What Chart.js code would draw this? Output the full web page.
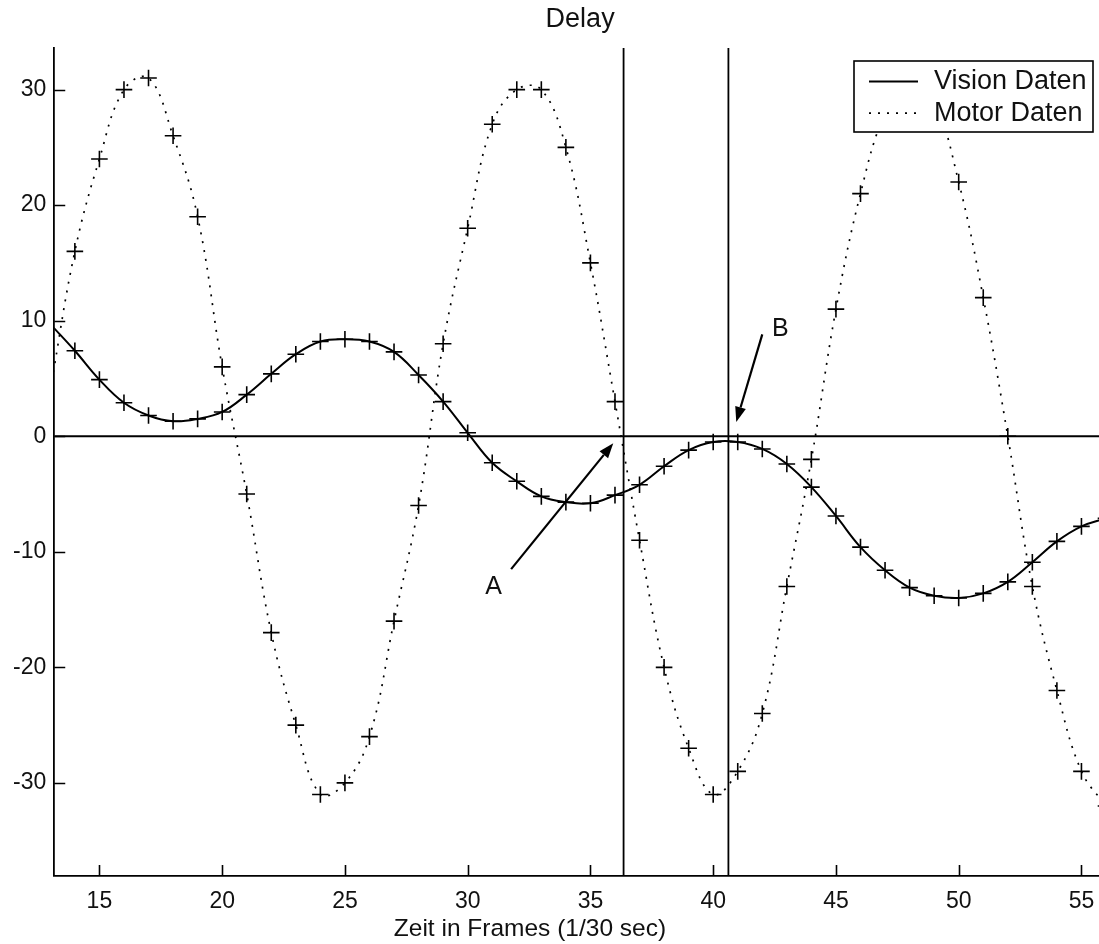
<!DOCTYPE html>
<html>
<head>
<meta charset="utf-8">
<script src="https://cdn.jsdelivr.net/npm/chart.js@4/dist/chart.umd.min.js"></script>
<style>
html,body{margin:0;padding:0;background:#fff;overflow:hidden;width:1099px;height:944px}
#wrap{width:1160px;height:944px}
canvas{display:block}
</style>
</head>
<body>
<div id="wrap"><canvas id="c" width="1160" height="944"></canvas></div>
<script>
// ---- data ----
const frames = [13,14,15,16,17,18,19,20,21,22,23,24,25,26,27,28,29,30,31,32,33,34,35,36,37,38,39,40,41,42,43,44,45,46,47,48,49,50,51,52,53,54,55,56];
const visionDaten = [9.7,7.4,4.9,2.9,1.8,1.3,1.5,2.1,3.6,5.4,7.1,8.2,8.4,8.2,7.3,5.3,3.0,0.3,-2.3,-3.9,-5.2,-5.7,-5.8,-5.1,-4.2,-2.6,-1.2,-0.5,-0.5,-1.1,-2.4,-4.4,-6.9,-9.6,-11.6,-13.1,-13.8,-14.0,-13.6,-12.6,-10.9,-9.1,-7.8,-7.1];
const motorDaten = [4,16,24,30,31,26,19,6,-5,-17,-25,-31,-30,-26,-16,-6,8,18,27,30,30,25,15,3,-9,-20,-27,-31,-29,-24,-13,-2,11,21,28,31,29,22,12,0,-13,-22,-29,-32];
const xTicks = [15,20,25,30,35,40,45,50,55];
const yTicks = [-30,-20,-10,0,10,20,30];
const xRange = [13.16, 56];
const yRange = [-38.05, 33.6];
const cursorFrames = [36.35, 40.62];   // vertical marker lines
const zeroLevel = 0;                    // horizontal reference line
const notes = [
  {label:'A', text:[31.06,-13.08], tail:[31.77,-11.5], tip:[35.93,-0.6]},
  {label:'B', text:[42.74, 9.25], tail:[42.0, 8.82], tip:[40.94, 1.24]}
];
const titleText = 'Delay';
const xLabel = 'Zeit in Frames (1/30 sec)';

const FONT = '"Liberation Sans", Arial, Helvetica, sans-serif';
const TXT = '#111';

const toXY = (xs, ys) => xs.map((v,i)=>({x:v, y:ys[i]}));
const inRange = ctx => {
  const p = ctx.raw; if (!p) return 0;
  return (p.x >= xRange[0] && p.x <= xRange[1]) ? 8.3 : 0;
};

const refDatasets = [
  ...cursorFrames.map(f => ({label:'_ref', data:[{x:f,y:yRange[0]},{x:f,y:yRange[1]}]})),
  {label:'_ref', data:[{x:xRange[0],y:zeroLevel},{x:xRange[1],y:zeroLevel}]}
].map(d => Object.assign(d, {borderColor:'#000', borderWidth:1.8, pointRadius:0, tension:0, inLegend:false}));

const tickPlugin = {
  id:'inwardTicks',
  afterDatasetsDraw(chart){
    const {ctx, chartArea:a, scales:{x, y}} = chart;
    ctx.save();
    ctx.strokeStyle = '#000'; ctx.lineWidth = 1.6;
    ctx.beginPath();
    xTicks.forEach(v => { const px = Math.round(x.getPixelForValue(v))+0.5; ctx.moveTo(px, a.bottom); ctx.lineTo(px, a.bottom-11); });
    yTicks.forEach(v => { const py = Math.round(y.getPixelForValue(v))+0.5; ctx.moveTo(a.left, py); ctx.lineTo(a.left+11, py); });
    ctx.stroke();
    ctx.restore();
  }
};

const arrowPlugin = {
  id:'arrows',
  afterDatasetsDraw(chart){
    const {ctx, scales:{x, y}} = chart;
    ctx.save();
    notes.forEach(n => {
      const x1 = x.getPixelForValue(n.tail[0]), y1 = y.getPixelForValue(n.tail[1]);
      const x2 = x.getPixelForValue(n.tip[0]),  y2 = y.getPixelForValue(n.tip[1]);
      const ang = Math.atan2(y2-y1, x2-x1);
      const L = 15, W = 5.5;
      const bx = x2 - L*Math.cos(ang), by = y2 - L*Math.sin(ang);
      ctx.strokeStyle = '#000'; ctx.fillStyle = '#000'; ctx.lineWidth = 2.2;
      ctx.beginPath(); ctx.moveTo(x1,y1); ctx.lineTo(bx,by); ctx.stroke();
      ctx.beginPath();
      ctx.moveTo(x2,y2);
      ctx.lineTo(bx + W*Math.sin(ang), by - W*Math.cos(ang));
      ctx.lineTo(bx - W*Math.sin(ang), by + W*Math.cos(ang));
      ctx.closePath(); ctx.fill();
      ctx.fillStyle = TXT; ctx.font = '25px ' + FONT;
      ctx.textAlign = 'center'; ctx.textBaseline = 'middle';
      ctx.fillText(n.label, x.getPixelForValue(n.text[0]), y.getPixelForValue(n.text[1]));
    });
    ctx.restore();
  }
};

const legendPlugin = {
  id:'boxLegend',
  afterDatasetsDraw(chart){
    const {ctx, chartArea:a} = chart;
    const w = 239, h = 71;
    const x0 = a.right - 13 - w, y0 = a.top + 13;
    ctx.save();
    ctx.fillStyle = '#fff'; ctx.fillRect(x0, y0, w, h);
    ctx.strokeStyle = '#000'; ctx.lineWidth = 1.6; ctx.strokeRect(x0, y0, w, h);
    chart.data.datasets.filter(d => d.inLegend).forEach((d, i) => {
      const cy = y0 + 20.5 + i*31.7;
      ctx.beginPath();
      ctx.setLineDash(d.borderDash || []);
      ctx.lineWidth = d.borderWidth; ctx.strokeStyle = d.borderColor;
      ctx.moveTo(x0+15, cy); ctx.lineTo(x0+64, cy); ctx.stroke();
      ctx.setLineDash([]);
      ctx.fillStyle = TXT; ctx.font = '27px ' + FONT;
      ctx.textAlign = 'left'; ctx.textBaseline = 'middle';
      ctx.fillText(d.label, x0+80, cy);
    });
    ctx.restore();
  }
};

const textPlugin = {
  id:'texts',
  afterDraw(chart){
    const {ctx, chartArea:a} = chart;
    ctx.save();
    ctx.fillStyle = TXT;
    ctx.textAlign = 'center'; ctx.textBaseline = 'middle';
    ctx.font = '27px ' + FONT;
    ctx.fillText(titleText, (a.left + a.right)/2, 20);
    ctx.font = '24.5px ' + FONT;
    ctx.fillText(xLabel, a.left + 0.4523*(a.right - a.left), chart.height - 15);
    ctx.restore();
  }
};

new Chart(document.getElementById('c'), {
  type: 'line',
  data: {
    datasets: [
      ...refDatasets,
      {
        label: 'Vision Daten', inLegend: true,
        data: toXY(frames, visionDaten),
        borderColor: '#000', borderWidth: 2, tension: 0.4,
        pointStyle: 'cross', pointRadius: inRange, pointBorderWidth: 1.6,
        pointBorderColor: '#000', pointBackgroundColor: 'transparent'
      },
      {
        label: 'Motor Daten', inLegend: true,
        data: toXY(frames, motorDaten),
        borderColor: '#000', borderWidth: 1.7, borderDash: [2, 7], tension: 0.4,
        pointStyle: 'cross', pointRadius: inRange, pointBorderWidth: 1.6,
        pointBorderColor: '#000', pointBackgroundColor: 'transparent'
      }
    ]
  },
  options: {
    responsive: false,
    devicePixelRatio: 1,
    animation: false,
    events: [],
    layout: { padding: { left: 5, right: 54, top: 48, bottom: 17.5 } },
    plugins: {
      legend: { display: false },
      tooltip: { enabled: false },
      title: { display: false }
    },
    scales: {
      x: {
        type: 'linear', min: xRange[0], max: xRange[1],
        afterBuildTicks: s => { s.ticks = xTicks.map(v => ({value: v})); },
        ticks: { color: TXT, font: { family: FONT, size: 23 }, padding: 11.5, maxRotation: 0, autoSkip: false, callback: v => String(v) },
        grid: { drawOnChartArea: false, drawTicks: false, color: 'transparent' },
        border: { display: true, color: '#000', width: 1.8 }
      },
      y: {
        type: 'linear', min: yRange[0], max: yRange[1],
        afterBuildTicks: s => { s.ticks = yTicks.map(v => ({value: v})); },
        ticks: { color: TXT, font: { family: FONT, size: 23 }, padding: 8, autoSkip: false, callback: v => String(v) },
        grid: { drawOnChartArea: false, drawTicks: false, color: 'transparent' },
        border: { display: true, color: '#000', width: 1.8 }
      }
    }
  },
  plugins: [tickPlugin, arrowPlugin, legendPlugin, textPlugin]
});
</script>
</body>
</html>
